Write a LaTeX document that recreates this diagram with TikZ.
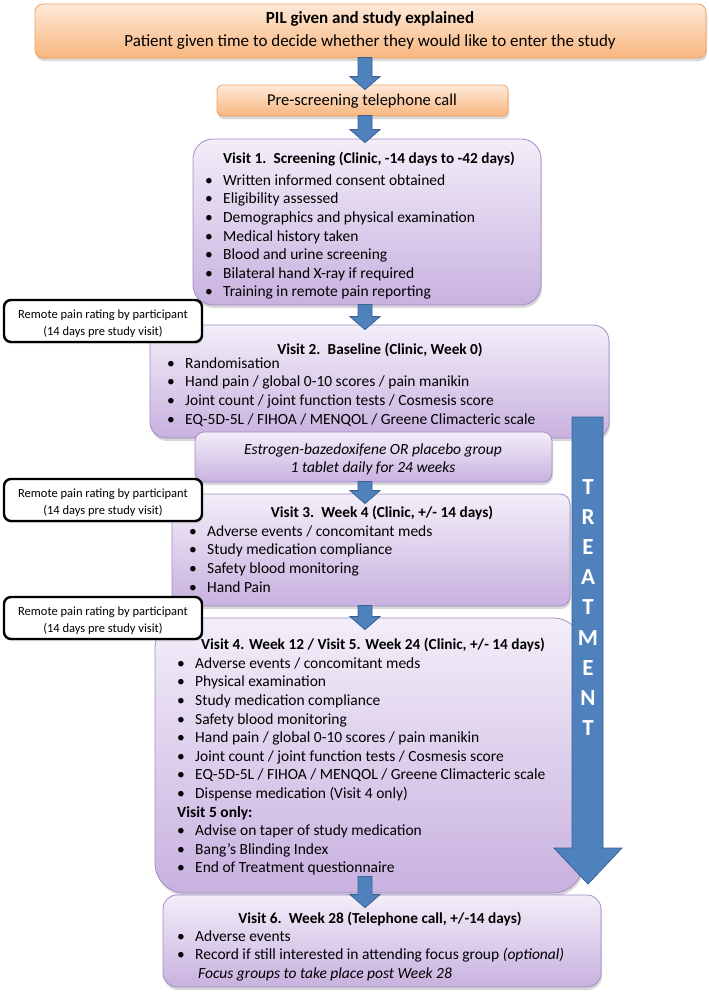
\documentclass[tikz,border=0pt]{standalone}
\usepackage{fontspec}
\setmainfont{Carlito}
\usetikzlibrary{shadows,calc}
\definecolor{orTop}{HTML}{FEE9D8}
\definecolor{orBot}{HTML}{F8B67F}
\definecolor{orLine}{HTML}{F0A060}
\definecolor{puTop}{HTML}{F3EEF9}
\definecolor{puBot}{HTML}{C8B1DF}
\definecolor{puLine}{HTML}{A28DC6}
\definecolor{arFill}{HTML}{4F81BD}
\definecolor{arLine}{HTML}{3A6192}
\newcommand\bl{\makebox[18pt][l]{\strut\textbullet}}
% \barrow{from}{to}{start depth into from}{tip depth into to}
\newcommand\barrow[4]{%
  \path[barrowstyle] let \p1=(#1.south -| col), \p2=(#2.north -| col) in
  (\x1-7pt,\y1+#3pt) -- (\x1-7pt,\y2-#4pt+13pt) -- (\x1-15pt,\y2-#4pt+13pt) -- (\x1,\y2-#4pt)
  -- (\x1+15pt,\y2-#4pt+13pt) -- (\x1+7pt,\y2-#4pt+13pt) -- (\x1+7pt,\y1+#3pt) -- cycle;}
\tikzset{
  shad/.style={drop shadow={opacity=0.3,shadow xshift=1pt,shadow yshift=-3pt}},
  obox/.style={draw=orLine,line width=0.8pt,top color=orTop,bottom color=orBot,
    rounded corners=8pt,shad,inner sep=0pt},
  pbox/.style={draw=puLine,line width=0.8pt,top color=puTop,bottom color=puBot,
    shad,inner sep=0pt},
  rbox/.style={draw=black,line width=2.4pt,fill=white,rounded corners=7pt,
    inner sep=0pt,drop shadow={opacity=0.25,shadow xshift=1pt,shadow yshift=-2pt}},
  barrowstyle/.style={fill=arFill,draw=arLine,line width=0.8pt},
  txt/.style={inner sep=0pt,font=\fontsize{15.5}{18.6}\selectfont,align=left,anchor=north west},
  ttl/.style={inner sep=0pt,font=\fontsize{15.3}{18.6}\selectfont\bfseries,anchor=base},
  rtxt/.style={inner sep=0pt,font=\fontsize{12.5}{17.5}\selectfont,align=center,anchor=north},
}
\begin{document}
\begin{tikzpicture}[x=1pt,y=-1pt]
\useasboundingbox (0,0) rectangle (709,996);
\fill[white] (0,0) rectangle (709,996);
\coordinate (col) at (365,0);
% orange boxes
\node[obox,minimum width=671pt,minimum height=54pt] (pil) at (370.5,31) {};
\node[ttl,font=\fontsize{17}{18}\selectfont\bfseries] (pilt) at (370,23.5) {PIL given and study explained};
\node[inner sep=0pt,anchor=base,font=\fontsize{17}{18}\selectfont] (pils) at (370,46) {Patient given time to decide whether they would like to enter the study};
\node[obox,rounded corners=5pt,minimum width=291pt,minimum height=31pt] (pre) at (362.5,100.5) {};
\node[inner sep=0pt,anchor=base,font=\fontsize{16.5}{18}\selectfont] (pret) at (362,105.5) {Pre-screening telephone call};
% visit 1
\node[pbox,rounded corners=20pt,minimum width=348pt,minimum height=166pt] (v1) at (367,222) {};
\node[ttl] (v1h) at (369,163) {Visit 1.\, Screening (Clinic, -14 days to -42 days)};
\node[txt] (v1l) at (205,172) {\bl Written informed consent obtained\\\bl Eligibility assessed\\\bl Demographics and physical examination\\\bl Medical history taken\\\bl Blood and urine screening\\\bl Bilateral hand X-ray if required\\\bl Training in remote pain reporting};
% visit 2
\node[pbox,rounded corners=16pt,minimum width=459pt,minimum height=113pt] (v2) at (379.5,381.5) {};
\node[ttl] (v2h) at (380,354) {Visit 2.\, Baseline (Clinic, Week 0)};
\node[txt] (v2l) at (167,355) {\bl Randomisation\\\bl Hand pain / global 0-10 scores / pain manikin\\\bl Joint count / joint function tests / Cosmesis score\\\bl EQ-5D-5L / FIHOA / MENQOL / Greene Climacteric scale};
% estrogen
\node[pbox,rounded corners=9pt,minimum width=357pt,minimum height=50pt] (est) at (373.5,457) {};
\node[inner sep=0pt,align=center,anchor=north,font=\fontsize{15.5}{18.6}\selectfont\itshape] (estt) at (373,441) {\strut Estrogen-bazedoxifene OR placebo group\\\strut 1 tablet daily for 24 weeks};
% visit 3
\node[pbox,rounded corners=10pt,minimum width=398pt,minimum height=112pt] (v3) at (371,550) {};
\node[ttl] (v3h) at (382,517) {Visit 3.\, Week 4 (Clinic, +/- 14 days)};
\node[txt] (v3l) at (189,523) {\bl Adverse events / concomitant meds\\\bl Study medication compliance\\\bl Safety blood monitoring\\\bl Hand Pain};
% visit 4/5
\node[pbox,rounded corners=30pt,minimum width=428pt,minimum height=275pt] (v4) at (369,755.5) {};
\node[ttl] (v4h) at (373,649) {Visit 4. Week 12 / Visit 5. Week 24 (Clinic, +/- 14 days)};
\node[txt] (v4l) at (177,655) {\bl Adverse events / concomitant meds\\\bl Physical examination\\\bl Study medication compliance\\\bl Safety blood monitoring\\\bl Hand pain / global 0-10 scores / pain manikin\\\bl Joint count / joint function tests / Cosmesis score\\\bl EQ-5D-5L / FIHOA / MENQOL / Greene Climacteric scale\\\bl Dispense medication (Visit 4 only)\\\strut\textbf{Visit 5 only:}\\\bl Advise on taper of study medication\\\bl Bang’s Blinding Index\\\bl End of Treatment questionnaire};
% visit 6
\node[pbox,rounded corners=14pt,minimum width=438pt,minimum height=92pt] (v6) at (382,941) {};
\node[ttl] (v6h) at (380,923) {Visit 6.\, Week 28 (Telephone call, +/-14 days)};
\node[txt] (v6l) at (177,928) {\bl Adverse events\\\bl Record if still interested in attending focus group \textit{(optional)}\\\makebox[21pt]{\strut}\textit{Focus groups to take place post Week 28}};
% treatment arrow
\path[barrowstyle] (572,417) -- (572,848) -- (554,848) -- (588,884) -- (622,848) -- (603,848) -- (603,417) -- cycle;
\node[inner sep=0pt,align=center,anchor=north,text=white,font=\fontsize{23}{30.2}\selectfont\bfseries] (treat) at (588,479) {T\\R\\E\\A\\T\\M\\E\\N\\T};
% remote boxes
\node[rbox,minimum width=198pt,minimum height=42pt] (r1) at (103,321) {};
\node[rtxt] (r1t) at (103,306) {\strut Remote pain rating by participant\\\strut (14 days pre study visit)};
\node[rbox,minimum width=198pt,minimum height=42pt] (r2) at (103,500) {};
\node[rtxt] (r2t) at (103,485) {\strut Remote pain rating by participant\\\strut (14 days pre study visit)};
\node[rbox,minimum width=198pt,minimum height=42pt] (r3) at (103,618) {};
\node[rtxt] (r3t) at (103,603) {\strut Remote pain rating by participant\\\strut (14 days pre study visit)};
% connectors
\barrow{pil}{pre}{1}{5}
\barrow{pre}{v1}{1}{4}
\barrow{v1}{v2}{1}{5}
\barrow{est}{v3}{1}{10}
\barrow{v3}{v4}{1}{12}
\barrow{v4}{v6}{17}{13}
\end{tikzpicture}
\end{document}
